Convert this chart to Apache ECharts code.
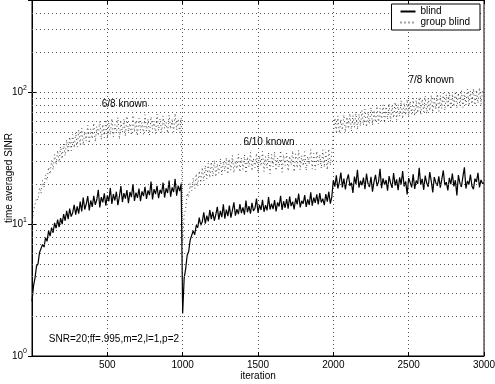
<!DOCTYPE html>
<html>
<head>
<meta charset="utf-8">
<script src="https://cdn.jsdelivr.net/npm/echarts@6/dist/echarts.min.js"></script>
<style>
  html, body { margin: 0; padding: 0; background: #fff; }
  #chart { width: 495px; height: 384px; }
</style>
</head>
<body>
<div id="chart"></div>
<script>
// Sampled every 10 iterations, 0..3000
const blindSINR = [
  2.6, 3.4, 3.9, 4.8, 5.0, 6.1, 5.9, 7.0, 6.7, 7.9,
  7.4, 8.9, 8.1, 9.4, 8.6, 10.2, 9.3, 10.8, 9.5, 11.1,
  10.0, 11.9, 10.6, 12.6, 10.9, 13.1, 11.4, 12.2, 14.0, 11.8,
  13.6, 12.0, 14.8, 12.5, 15.9, 12.9, 14.2, 16.3, 12.7, 15.1,
  13.5, 16.4, 14.0, 15.3, 18.2, 13.4, 16.0, 14.6, 17.1, 13.8,
  16.5, 14.9, 18.8, 14.2, 16.9, 15.1, 17.6, 13.9, 16.2, 19.4,
  14.7, 17.2, 15.6, 18.1, 14.4, 17.5, 16.0, 20.1, 15.0, 17.3,
  15.8, 18.6, 14.9, 17.7, 16.3, 19.2, 15.5, 18.0, 16.6, 21.0,
  15.4, 18.4, 16.9, 19.5, 15.7, 18.2, 17.0, 20.6, 15.9, 18.7,
  17.2, 21.4, 16.1, 19.0, 17.5, 22.0, 16.4, 19.6, 17.8, 20.3,
  2.1, 3.9, 4.6, 5.8, 6.2, 7.6, 7.5, 8.9, 8.3, 9.8,
  9.4, 11.2, 9.8, 10.4, 12.3, 10.1, 11.6, 10.5, 12.8, 10.9,
  12.4, 10.6, 11.8, 13.5, 10.8, 12.6, 11.3, 14.1, 11.0, 12.9,
  11.5, 13.8, 11.2, 12.7, 14.6, 11.6, 13.0, 11.9, 14.2, 12.1,
  13.4, 11.8, 15.1, 12.3, 13.7, 12.0, 14.5, 12.6, 13.2, 15.6,
  12.2, 14.0, 12.8, 15.3, 12.4, 13.9, 12.7, 16.0, 12.9, 14.3,
  13.0, 15.2, 12.5, 14.6, 13.6, 16.4, 12.8, 14.9, 13.3, 15.5,
  13.1, 16.2, 13.7, 14.8, 12.9, 15.7, 14.1, 17.0, 13.4, 15.0,
  14.3, 16.6, 13.5, 15.4, 14.0, 17.4, 13.8, 15.9, 14.5, 16.8,
  14.1, 17.2, 14.6, 15.6, 13.9, 16.9, 14.8, 17.6, 14.3, 16.1,
  21.5, 19.2, 23.4, 18.6, 20.8, 24.6, 19.0, 22.1, 18.3, 21.7,
  23.8, 19.5, 20.6, 17.2, 22.9, 20.1, 25.8, 18.9, 21.3, 19.7,
  22.5, 18.4, 24.1, 20.3, 19.1, 22.8, 17.6, 21.0, 23.6, 19.4,
  20.9, 26.3, 18.7, 22.2, 19.8, 21.6, 17.9, 23.1, 20.5, 18.8,
  24.4, 19.6, 21.8, 18.1, 22.6, 20.0, 25.2, 19.3, 21.1, 16.8,
  22.3, 20.7, 19.0, 23.9, 18.5, 21.4, 20.2, 26.7, 19.9, 22.0,
  18.2, 23.3, 20.4, 19.2, 24.8, 21.2, 17.4, 22.7, 20.6, 19.5,
  23.0, 18.9, 21.9, 25.5, 19.7, 20.8, 18.0, 22.4, 20.1, 24.2,
  19.3, 21.5, 16.5, 23.5, 20.5, 19.1, 22.9, 26.9, 18.6, 21.2,
  20.0, 23.7, 19.4, 18.4, 22.1, 20.9, 24.5, 19.0, 21.6, 20.3,
  20.6
];
const groupBlindSINR = [
  10.0, 12.6, 12.9, 15.8, 15.2, 18.9, 17.1, 21.4, 19.0, 23.6,
  21.5, 27.0, 23.9, 30.4, 25.8, 33.7, 28.1, 36.2, 29.5, 38.8,
  31.2, 40.6, 32.9, 43.5, 34.8, 45.9, 36.0, 47.8, 37.9, 49.6,
  38.4, 51.8, 40.2, 53.5, 39.7, 50.1, 42.6, 56.2, 41.0, 52.7,
  44.3, 58.4, 42.1, 55.0, 46.7, 60.3, 43.8, 57.1, 45.2, 61.9,
  44.6, 58.8, 47.5, 63.2, 45.9, 56.7, 48.8, 64.5, 44.0, 59.6,
  49.4, 62.1, 46.2, 65.8, 50.3, 58.2, 47.1, 66.9, 49.9, 61.0,
  46.5, 63.7, 51.4, 59.0, 48.0, 67.5, 50.6, 62.4, 47.4, 65.1,
  52.3, 60.5, 48.5, 68.2, 51.1, 63.0, 49.2, 66.0, 53.0, 59.3,
  48.9, 67.1, 52.6, 61.7, 50.0, 69.0, 51.7, 62.8, 49.6, 64.2,
  7.2, 11.8, 13.1, 17.2, 16.0, 20.3, 17.9, 22.4, 18.6, 24.1,
  19.4, 25.3, 20.6, 26.9, 21.2, 27.8, 22.0, 28.9, 22.5, 29.6,
  23.0, 30.5, 22.8, 28.6, 24.3, 31.4, 23.6, 29.9, 25.1, 32.0,
  23.9, 31.1, 25.6, 33.2, 24.4, 30.2, 26.3, 34.0, 24.8, 31.8,
  26.0, 33.6, 24.2, 32.3, 27.1, 35.0, 25.3, 31.5, 26.8, 34.4,
  24.6, 33.0, 27.5, 35.6, 25.0, 32.5, 26.5, 34.8, 24.1, 33.8,
  27.2, 35.3, 25.4, 31.9, 26.9, 36.1, 24.7, 33.4, 27.8, 34.6,
  25.2, 32.8, 28.0, 35.9, 24.9, 34.1, 26.6, 36.4, 25.7, 33.1,
  27.6, 35.4, 25.5, 32.6, 28.3, 36.8, 26.1, 34.3, 25.9, 35.7,
  28.1, 33.7, 26.4, 36.6, 27.0, 34.9, 25.8, 37.2, 27.9, 34.5,
  47.5, 63.8, 50.2, 66.1, 48.9, 62.0, 51.6, 67.4, 49.7, 64.9,
  52.8, 69.0, 50.6, 66.8, 54.1, 71.2, 52.0, 68.3, 55.4, 72.5,
  56.2, 74.6, 54.3, 70.9, 57.8, 76.3, 55.9, 73.0, 59.1, 78.2,
  57.5, 75.4, 60.6, 80.1, 58.8, 77.7, 62.2, 81.9, 60.0, 79.3,
  63.7, 84.2, 61.4, 80.6, 65.5, 86.5, 63.0, 82.8, 66.9, 88.1,
  64.8, 85.3, 68.2, 89.9, 66.1, 87.0, 69.6, 91.4, 67.5, 88.6,
  71.0, 93.5, 68.7, 90.2, 72.4, 95.0, 70.3, 92.1, 73.8, 96.8,
  71.6, 94.3, 75.1, 98.0, 72.9, 95.9, 76.5, 99.6, 74.2, 97.2,
  77.6, 101.5, 75.5, 98.8, 78.9, 103.4, 76.8, 100.4, 80.0, 105.2,
  78.3, 102.2, 81.4, 106.7, 79.6, 104.0, 82.5, 108.3, 80.8, 103.6,
  96.0
];
const seriesNames = ['blind', 'group blind'];
const xTicks = [500, 1000, 1500, 2000, 2500, 3000];
const yGridValues = [2, 3, 4, 5, 6, 7, 8, 9, 10, 20, 30, 40, 50, 60, 70, 80, 90, 100, 200, 300, 400];
const annotationTexts = ['6/8 known', '6/10 known', '7/8 known', 'SNR=20;ff=.995,m=2,l=1,p=2'];
const annotationX = [614, 1573, 2650, 544];
const annotationY = [81, 42, 124, 1.34];

const iterations = [];
for (let i = 0; i < blindSINR.length; i++) iterations.push(i * 10);

const chart = echarts.init(document.getElementById('chart'), null, { renderer: 'canvas' });
const FONT = 'Liberation Sans, Arial, Helvetica, sans-serif';
const gridLineStyle = { color: '#555', width: 1, type: [1, 3] };

chart.setOption({
  animation: false,
  textStyle: { fontFamily: FONT, color: '#000' },
  grid: {
    left: 32, right: 11, top: 0, bottom: 28,
    containLabel: false, outerBoundsMode: 'none',
    show: true, borderColor: '#000', borderWidth: 1, backgroundColor: 'transparent'
  },
  legend: {
    data: seriesNames,
    orient: 'vertical',
    right: 15,
    top: 4,
    z: 20,
    itemWidth: 15,
    itemHeight: 8,
    itemGap: 0,
    padding: [2, 10, 2, 8],
    borderColor: '#000',
    borderWidth: 1,
    backgroundColor: '#fff',
    itemStyle: { opacity: 0, borderWidth: 0 },
    textStyle: { fontSize: 10, color: '#000', fontFamily: FONT, lineHeight: 11 }
  },
  xAxis: [{
    type: 'value', min: 0, max: 3000, interval: 500,
    name: 'iteration', nameLocation: 'middle', nameGap: 15, nameMoveOverlap: false,
    nameTextStyle: { fontSize: 10, color: '#000', fontFamily: FONT },
    axisLine: { lineStyle: { color: '#000' } },
    axisTick: { inside: true, length: 4, lineStyle: { color: '#000' } },
    axisLabel: { fontSize: 10, color: '#000', margin: 4, fontFamily: FONT,
      formatter: v => (xTicks.indexOf(v) >= 0 ? String(v) : '') },
    splitLine: { show: true, lineStyle: gridLineStyle }
  }, {
    type: 'value', min: 0, max: 3000, interval: 500, position: 'top',
    axisLine: { lineStyle: { color: '#000' } },
    axisTick: { inside: true, length: 4, lineStyle: { color: '#000' } },
    axisLabel: { show: false }, splitLine: { show: false }
  }],
  yAxis: [{
    type: 'log', logBase: 10, min: 1, max: 500,
    name: 'time averaged SINR', nameLocation: 'middle', nameGap: 18, nameMoveOverlap: false,
    nameTextStyle: { fontSize: 10, color: '#000', fontFamily: FONT },
    axisLine: { lineStyle: { color: '#000' } },
    axisTick: { inside: true, length: 4, lineStyle: { color: '#000' } },
    axisLabel: {
      margin: 5, color: '#000',
      formatter: v => {
        const e = Math.log10(v);
        if (Math.abs(e - Math.round(e)) > 1e-6) return '';
        return '{b|10}{s|' + Math.round(e) + '}';
      },
      rich: {
        b: { fontSize: 10, lineHeight: 16, fontFamily: FONT, color: '#000' },
        s: { fontSize: 7, verticalAlign: 'top', fontFamily: FONT, color: '#000' }
      }
    },
    splitLine: { show: false }
  }, {
    type: 'log', logBase: 10, min: 1, max: 500, position: 'right',
    axisLine: { lineStyle: { color: '#000' } },
    axisTick: { inside: true, length: 4, lineStyle: { color: '#000' } },
    axisLabel: { show: false }, splitLine: { show: false }
  }],
  series: [{
    name: seriesNames[0],
    type: 'line',
    xAxisIndex: 0, yAxisIndex: 0,
    data: iterations.map((x, i) => [x, blindSINR[i]]),
    showSymbol: false, symbol: 'none',
    lineStyle: { color: '#000', width: 1.2 },
    itemStyle: { color: '#000' },
    z: 3,
    markLine: {
      silent: true, symbol: 'none', label: { show: false },
      lineStyle: gridLineStyle,
      data: yGridValues.map(v => ({ yAxis: v }))
    },
    markPoint: {
      silent: true,
      symbol: 'rect', symbolSize: 1,
      itemStyle: { color: 'rgba(0,0,0,0)' },
      label: { show: true, position: 'inside', color: '#000', fontSize: 10, fontFamily: FONT },
      data: annotationTexts.map((t, i) => ({
        coord: [annotationX[i], annotationY[i]],
        label: { formatter: t }
      }))
    }
  }, {
    name: seriesNames[1],
    type: 'line',
    xAxisIndex: 0, yAxisIndex: 0,
    data: iterations.map((x, i) => [x, groupBlindSINR[i]]),
    showSymbol: false, symbol: 'none',
    lineStyle: { color: '#444', width: 1, type: [1, 3] },
    itemStyle: { color: '#444' },
    z: 3
  }]
});
</script>
</body>
</html>
